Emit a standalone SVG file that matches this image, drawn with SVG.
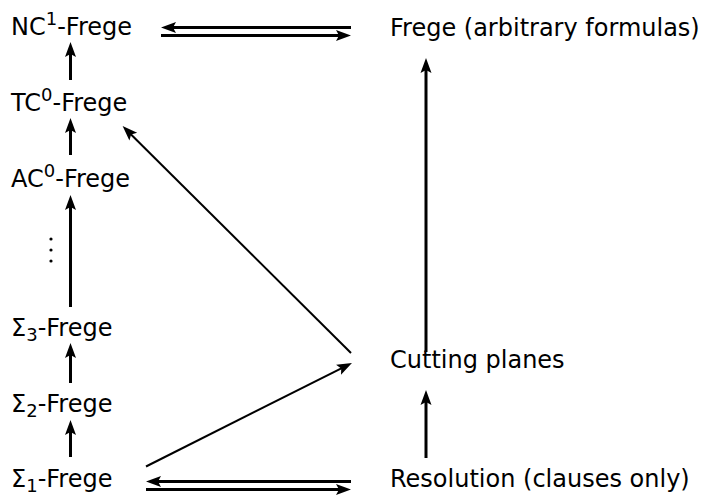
<svg xmlns="http://www.w3.org/2000/svg" width="703" height="497" viewBox="0 0 703 497">
  <style>
    text { font-family: "DejaVu Sans", "Liberation Sans", sans-serif; font-size: 24px; fill: #000; }
    .sup { font-size: 18px; }
    .thick { stroke: #000; stroke-width: 3; fill: none; }
    .thin { stroke: #000; stroke-width: 2; fill: none; }
  </style>
  <defs>
    <marker id="head" markerUnits="userSpaceOnUse" markerWidth="22" markerHeight="14" viewBox="-9 -7 22 14" refX="0" refY="0" orient="auto" overflow="visible">
      <path d="M8,0 L-7,-5.5 L-4,0 L-7,5.5 z" fill="#000"/>
    </marker>
  </defs>

  <g id="connectors">
    <!-- left column chain -->
    <line class="thick" x1="70.5" y1="80" x2="70.5" y2="50" marker-end="url(#head)"/>
    <line class="thick" x1="70.5" y1="155" x2="70.5" y2="126" marker-end="url(#head)"/>
    <line class="thick" x1="70.5" y1="307" x2="70.5" y2="203" marker-end="url(#head)"/>
    <line class="thick" x1="70.5" y1="383" x2="70.5" y2="351" marker-end="url(#head)"/>
    <line class="thick" x1="70.5" y1="457" x2="70.5" y2="428" marker-end="url(#head)"/>
    <!-- right column chain -->
    <line class="thick" x1="426" y1="352" x2="426" y2="66" marker-end="url(#head)"/>
    <line class="thick" x1="426" y1="458" x2="426" y2="398" marker-end="url(#head)"/>
    <!-- equivalences -->
    <line class="thick" x1="351" y1="27.5" x2="169" y2="27.5" marker-end="url(#head)"/>
    <line class="thick" x1="161" y1="35.5" x2="343" y2="35.5" marker-end="url(#head)"/>
    <line class="thick" x1="351" y1="481.5" x2="154" y2="481.5" marker-end="url(#head)"/>
    <line class="thick" x1="146" y1="489.5" x2="343" y2="489.5" marker-end="url(#head)"/>
    <!-- diagonals -->
    <line class="thin" x1="146" y1="466.5" x2="344.8" y2="366.6" marker-end="url(#head)"/>
    <line class="thin" x1="351" y1="353" x2="128.3" y2="131.7" marker-end="url(#head)"/>
  </g>

  <g id="nc1">
    <text x="11" y="35">NC<tspan class="sup" dy="-10">1</tspan><tspan dy="10">-Frege</tspan></text>
  </g>
  <g id="tc0">
    <text x="11" y="111">TC<tspan class="sup" dy="-10">0</tspan><tspan dy="10">-Frege</tspan></text>
  </g>
  <g id="ac0">
    <text x="11" y="187">AC<tspan class="sup" dy="-10">0</tspan><tspan dy="10">-Frege</tspan></text>
  </g>
  <g id="dots">
    <circle cx="51" cy="239" r="1.6" fill="#000"/>
    <circle cx="51" cy="250" r="1.6" fill="#000"/>
    <circle cx="51" cy="261" r="1.6" fill="#000"/>
  </g>
  <g id="sigma3">
    <text x="11" y="336">Σ<tspan class="sup" dy="5">3</tspan><tspan dy="-5">-Frege</tspan></text>
  </g>
  <g id="sigma2">
    <text x="11" y="412">Σ<tspan class="sup" dy="5">2</tspan><tspan dy="-5">-Frege</tspan></text>
  </g>
  <g id="sigma1">
    <text x="11" y="487">Σ<tspan class="sup" dy="5">1</tspan><tspan dy="-5">-Frege</tspan></text>
  </g>
  <g id="frege">
    <text x="390" y="36">Frege (arbitrary formulas)</text>
  </g>
  <g id="cutting-planes">
    <text x="390" y="368">Cutting planes</text>
  </g>
  <g id="resolution">
    <text x="390" y="487">Resolution (clauses only)</text>
  </g>
</svg>
